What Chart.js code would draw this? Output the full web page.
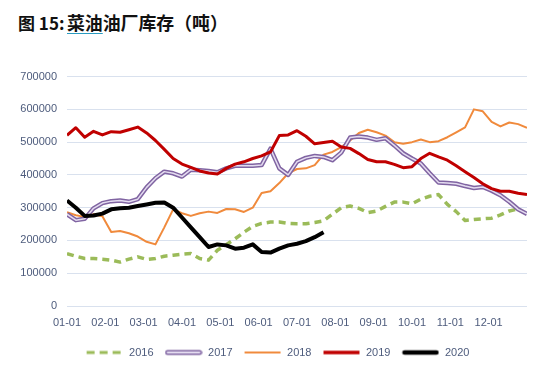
<!DOCTYPE html>
<html>
<head>
<meta charset="utf-8">
<script src="https://cdn.jsdelivr.net/npm/chart.js@4.4.0/dist/chart.umd.min.js"></script>
<style>
    body { margin: 0; background: #fff; width: 554px; height: 381px; overflow: hidden; position: relative; }
    #title {
        position: absolute; left: 18px; top: 11px; white-space: nowrap;
        font: bold 17px "Noto Sans CJK SC", "Liberation Sans", sans-serif;
        line-height: 22px; color: #111;
    }
    #pre { display: inline-block; width: 49px; }
    #title u { text-decoration-color: #2a9bc0; text-underline-offset: 3px; }
    #wrap { position: absolute; left: 0; top: 60px; width: 554px; height: 321px; }
</style>
</head>
<body>
<div id="title"><span id="pre">图 15:</span><span id="main"><u>菜油</u>油厂库存（吨）</span></div>
<div id="wrap"><canvas id="chart"></canvas></div>
<script>
// Weekly points, week 0 = 01-01
const weeks = Array.from({ length: 53 }, (_, i) => i);
const monthLabels = ['01-01', '02-01', '03-01', '04-01', '05-01', '06-01',
                     '07-01', '08-01', '09-01', '10-01', '11-01', '12-01'];
const seriesNames = ['2016', '2017', '2018', '2019', '2020'];

// Stock in tonnes
const stock2016 = [160000, 152000, 145000, 145000, 143000, 140000, 134000, 143000, 150000, 142000,
                   145000, 152000, 155000, 158000, 160000, 145000, 140000, 170000, 187000, 205000,
                   225000, 243000, 252000, 256000, 256000, 252000, 251000, 251000, 255000, 260000,
                   280000, 300000, 305000, 298000, 285000, 290000, 304000, 317000, 317000, 312000,
                   326000, 335000, 340000, 310000, 288000, 261000, 264000, 266000, 268000, 278000,
                   290000, 296000, null];
const stock2017 = [280000, 262000, 266000, 298000, 314000, 320000, 322000, 318000, 326000, 362000,
                   390000, 410000, 405000, 395000, 416000, 414000, 412000, 408000, 420000, 428000,
                   428000, 428000, 430000, 480000, 420000, 400000, 440000, 452000, 458000, 455000,
                   445000, 468000, 514000, 517000, 514000, 507000, 512000, 490000, 466000, 450000,
                   435000, 405000, 377000, 375000, 373000, 366000, 360000, 363000, 352000, 338000,
                   318000, 295000, 281000];
const stock2018 = [286000, 277000, 272000, 280000, 274000, 226000, 229000, 222000, 212000, 196000,
                   188000, 240000, 295000, 283000, 275000, 283000, 288000, 284000, 296000, 295000,
                   287000, 300000, 345000, 350000, 375000, 405000, 418000, 420000, 430000, 462000,
                   470000, 485000, 505000, 528000, 538000, 530000, 520000, 500000, 495000, 500000,
                   508000, 500000, 503000, 515000, 530000, 545000, 600000, 594000, 562000, 548000,
                   560000, 555000, 544000];
const stock2019 = [521000, 544000, 515000, 533000, 522000, 532000, 530000, 538000, 546000, 528000,
                   505000, 478000, 450000, 433000, 423000, 412000, 406000, 403000, 420000, 433000,
                   440000, 450000, 458000, 470000, 520000, 522000, 535000, 518000, 495000, 499000,
                   503000, 485000, 481000, 465000, 447000, 440000, 440000, 432000, 422000, 425000,
                   450000, 466000, 455000, 445000, 428000, 410000, 392000, 373000, 358000, 350000,
                   350000, 344000, 340000];
const stock2020 = [322000, 300000, 275000, 276000, 282000, 295000, 298000, 300000, 305000, 310000,
                   315000, 316000, 300000, 270000, 240000, 210000, 180000, 188000, 185000, 175000,
                   178000, 188000, 165000, 163000, 175000, 185000, 190000, 198000, 210000, 225000];

const yTicks = [0, 100000, 200000, 300000, 400000, 500000, 600000, 700000];

const axisColor = '#4d5b7c';

// fit the title text to the width it has in the original
const mainTitle = document.getElementById('main');
const naturalWidth = mainTitle.getBoundingClientRect().width;
mainTitle.style.fontSize = (17 * 161 / naturalWidth).toFixed(2) + 'px';

// Legend icons drawn to small canvases
function makeIcon(draw) {
    const c = document.createElement('canvas');
    c.width = 38; c.height = 8;
    const g = c.getContext('2d');
    draw(g);
    return c;
}
const icons = [
    makeIcon(g => {
        g.strokeStyle = '#9bbb59'; g.lineWidth = 3; g.setLineDash([8, 5]);
        g.beginPath(); g.moveTo(1, 4); g.lineTo(37, 4); g.stroke();
    }),
    makeIcon(g => {
        g.strokeStyle = '#8064a2'; g.lineWidth = 5; g.lineCap = 'round';
        g.beginPath(); g.moveTo(3, 4); g.lineTo(35, 4); g.stroke();
        g.strokeStyle = '#e4dcf0'; g.lineWidth = 2;
        g.beginPath(); g.moveTo(3, 4); g.lineTo(35, 4); g.stroke();
    }),
    makeIcon(g => {
        g.strokeStyle = '#f08a3c'; g.lineWidth = 2;
        g.beginPath(); g.moveTo(1, 4); g.lineTo(37, 4); g.stroke();
    }),
    makeIcon(g => {
        g.strokeStyle = '#c00000'; g.lineWidth = 3.5;
        g.beginPath(); g.moveTo(1, 4); g.lineTo(37, 4); g.stroke();
    }),
    makeIcon(g => {
        g.strokeStyle = '#000'; g.lineWidth = 4.5; g.lineCap = 'round';
        g.beginPath(); g.moveTo(3, 4); g.lineTo(35, 4); g.stroke();
    })
];

const common = { pointRadius: 0, pointHoverRadius: 0, tension: 0, fill: false, borderJoinStyle: 'round' };

// move the legend a little right, as in the original
const legendShift = {
    id: 'legendShift',
    afterLayout(chart) {
        chart.legend.left += 14;
        chart.legend.right += 14;
    }
};

new Chart(document.getElementById('chart'), {
    type: 'line',
    data: {
        labels: weeks,
        datasets: [
            Object.assign({ label: seriesNames[0], data: stock2016, borderColor: '#9bbb59', borderWidth: 3.5,
                borderDash: [7, 5], pointStyle: icons[0], order: 6 }, common),
            Object.assign({ label: seriesNames[1], data: stock2017, borderColor: '#8064a2', borderWidth: 4.5,
                pointStyle: icons[1], order: 4 }, common),
            Object.assign({ label: seriesNames[2], data: stock2018, borderColor: '#f08a3c', borderWidth: 2,
                pointStyle: icons[2], order: 5 }, common),
            Object.assign({ label: seriesNames[3], data: stock2019, borderColor: '#c00000', borderWidth: 3,
                pointStyle: icons[3], order: 2 }, common),
            Object.assign({ label: seriesNames[4], data: stock2020, borderColor: '#000000', borderWidth: 4,
                pointStyle: icons[4], order: 1 }, common),
            // light core of the 2017 double line
            Object.assign({ label: 'core', data: stock2017, borderColor: '#e4dcf0', borderWidth: 1.5,
                order: 3 }, common)
        ]
    },
    plugins: [legendShift],
    options: {
        responsive: true,
        maintainAspectRatio: false,
        animation: false,
        layout: { padding: { left: 0, right: 27, top: 13, bottom: 13 } },
        plugins: {
            tooltip: { enabled: false },
            legend: {
                position: 'bottom',
                labels: {
                    usePointStyle: true,
                    pointStyleWidth: 38,
                    boxHeight: 8,
                    padding: 11,
                    color: axisColor,
                    font: { family: 'Liberation Sans', size: 11 },
                    filter: item => item.text !== 'core',
                    sort: (a, b) => a.datasetIndex - b.datasetIndex
                }
            }
        },
        scales: {
            x: {
                type: 'linear',
                min: 0,
                max: 52,
                grid: { display: false, drawTicks: false },
                border: { display: false },
                afterBuildTicks: scale => {
                    scale.ticks = monthLabels.map((m, i) => ({ value: i * 52 / 12 }));
                },
                ticks: {
                    padding: 10,
                    maxRotation: 0,
                    autoSkip: false,
                    color: axisColor,
                    font: { family: 'Liberation Sans', size: 11 },
                    callback: (v, i) => monthLabels[i]
                },
                afterFit: scale => { scale.height = 30; }
            },
            y: {
                min: 0,
                max: 700000,
                afterBuildTicks: scale => {
                    scale.ticks = yTicks.map(v => ({ value: v }));
                },
                grid: { color: '#d9e1ee', drawTicks: false },
                border: { display: false },
                ticks: {
                    padding: 10,
                    color: axisColor,
                    font: { family: 'Liberation Sans', size: 11 },
                    callback: v => String(v)
                },
                afterFit: scale => { scale.width = 67; }
            }
        }
    }
});
</script>
</body>
</html>
